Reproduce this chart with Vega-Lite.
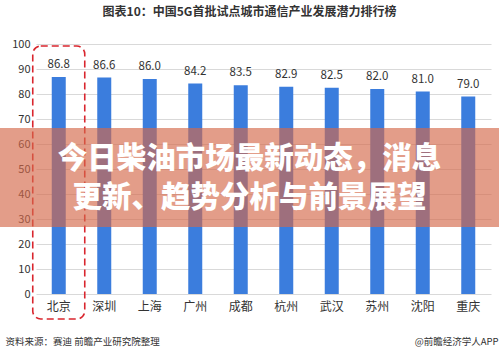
{
  "$schema": "https://vega.github.io/schema/vega-lite/v6.json",
  "width": 499,
  "height": 250,
  "autosize": "none",
  "padding": {"left": 0, "top": 44, "right": 0, "bottom": 62},
  "background": "white",
  "config": {"font": "Noto Sans CJK SC", "view": {"stroke": null}},
  "title": {"text": "图表10：中国5G首批试点城市通信产业发展潜力排行榜", "fontSize": 12, "fontWeight": "bold", "color": "#333333", "font": "Noto Sans CJK SC", "anchor": "middle", "frame": "group", "offset": 19},
  "datasets": {
    "cities": [
      {"city": "北京", "value": 86.8},
      {"city": "深圳", "value": 86.6},
      {"city": "上海", "value": 86.0},
      {"city": "广州", "value": 84.2},
      {"city": "成都", "value": 83.5},
      {"city": "杭州", "value": 82.9},
      {"city": "武汉", "value": 82.5},
      {"city": "苏州", "value": 82.0},
      {"city": "沈阳", "value": 81.0},
      {"city": "重庆", "value": 79.0}
    ],
    "box": [{"city": "北京", "top": 99.2, "bottom": -10}],
    "banner": [{"top": 66.4, "bottom": 26.8, "mid": 54.0, "label": "今日柴油市场最新动态，消息\n更新、趋势分析与前景展望"}]
  },
  "layer": [
    {
      "data": {"name": "cities"},
      "mark": {"type": "bar", "size": 14, "color": "#3b7ddd"},
      "encoding": {
        "x": {
          "field": "city", "type": "nominal", "sort": null,
          "scale": {"range": [36, 491], "paddingInner": 0, "paddingOuter": 0},
          "axis": {
            "labelAngle": 0, "labelFontSize": 12, "labelColor": "#333333", "labelPadding": 7,
            "ticks": false, "domain": false, "grid": false,
            "title": "资料来源：赛迪 前瞻产业研究院整理",
            "titleX": 5, "titleY": 47, "titleAlign": "left", "titleBaseline": "middle",
            "titleFontSize": 9.5, "titleFontWeight": "normal", "titleColor": "#333333"
          }
        },
        "y": {
          "field": "value", "type": "quantitative",
          "scale": {"domain": [0, 100], "nice": false},
          "axis": {
            "offset": -36, "values": [0, 10, 20, 30, 40, 50, 60, 70, 80, 90, 100], "tickCount": 11,
            "labelOverlap": false,
            "grid": true, "gridColor": "#d9d9d9", "domain": false, "ticks": false,
            "labelPadding": 6, "labelFontSize": 11, "labelColor": "#333333",
            "title": "@前瞻经济学人APP", "titleAngle": 0, "titleX": 462, "titleY": 297,
            "titleAlign": "right", "titleBaseline": "middle",
            "titleFontSize": 9.5, "titleFontWeight": "normal", "titleColor": "#333333"
          }
        }
      }
    },
    {
      "data": {"name": "cities"},
      "mark": {"type": "text", "baseline": "middle", "dy": -12, "fontSize": 11.5, "color": "#333333"},
      "encoding": {
        "x": {"field": "city", "type": "nominal", "sort": null},
        "y": {"field": "value", "type": "quantitative", "axis": {"values": [0, 10, 20, 30, 40, 50, 60, 70, 80, 90, 100], "tickCount": 11, "labelOverlap": false}},
        "text": {"field": "value", "type": "quantitative", "format": ".1f"}
      }
    },
    {
      "data": {"name": "box"},
      "mark": {"type": "bar", "width": 52, "fill": null, "fillOpacity": 0, "stroke": "#d9262e", "strokeWidth": 1.6, "strokeDash": [7, 4], "cornerRadius": 8},
      "encoding": {
        "x": {"field": "city", "type": "nominal", "sort": null},
        "y": {"field": "top", "type": "quantitative", "axis": {"values": [0, 10, 20, 30, 40, 50, 60, 70, 80, 90, 100], "tickCount": 11, "labelOverlap": false}},
        "y2": {"field": "bottom"}
      }
    },
    {
      "data": {"name": "banner"},
      "mark": {"type": "rect", "color": "#d4694a", "opacity": 0.65},
      "encoding": {
        "y": {"field": "top", "type": "quantitative", "axis": {"values": [0, 10, 20, 30, 40, 50, 60, 70, 80, 90, 100], "tickCount": 11, "labelOverlap": false}},
        "y2": {"field": "bottom"}
      }
    },
    {
      "data": {"name": "banner"},
      "mark": {"type": "text", "lineBreak": "\n", "fontSize": 29.5, "fontWeight": 900, "color": "white", "baseline": "middle", "align": "center", "lineHeight": 39, "font": "Noto Sans CJK SC"},
      "encoding": {
        "y": {"field": "mid", "type": "quantitative", "axis": {"values": [0, 10, 20, 30, 40, 50, 60, 70, 80, 90, 100], "tickCount": 11, "labelOverlap": false}},
        "text": {"field": "label"}
      }
    }
  ]
}
